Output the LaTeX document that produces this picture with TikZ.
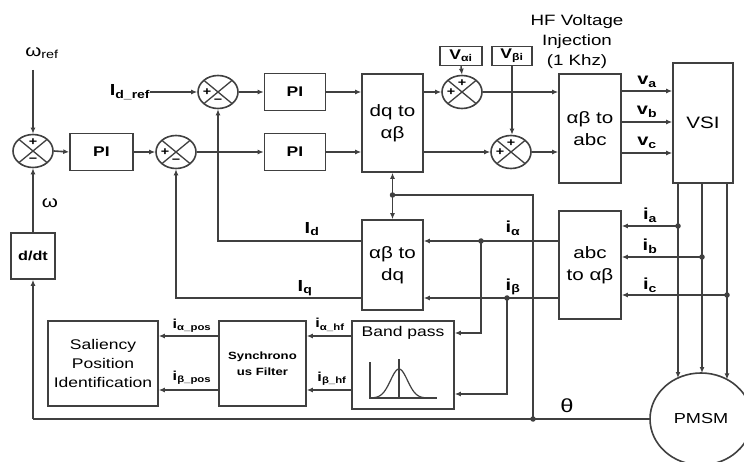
\documentclass[tikz,border=0pt]{standalone}
\usepackage{fontspec}
\setmainfont{Liberation Sans}[FakeStretch=1.25]
\usetikzlibrary{shapes.geometric,arrows.meta,calc}
\begin{document}
\begin{tikzpicture}[x=1pt,y=-1pt,
  ln/.style={draw=black!75, line width=1.6pt},
  arr/.style={ln, -{Latex[length=6pt,width=5pt]}},
  blk/.style={draw=black!75, line width=1.6pt, inner sep=0pt, align=center},
  big/.style={font=\fontsize{16.5}{22}\selectfont},
  bld/.style={font=\fontsize{14}{16}\selectfont\bfseries},
  sumn/.style={ellipse, draw=black!75, line width=1.6pt, minimum width=40pt, minimum height=33pt, inner sep=0pt,
    path picture={\draw[black!75,line width=1.3pt] (path picture bounding box.north west) -- (path picture bounding box.south east) (path picture bounding box.north east) -- (path picture bounding box.south west);}},
  sgn/.style={font=\fontsize{11.5}{11.5}\selectfont\bfseries, inner sep=0pt},
  dot/.style={circle, fill=black!75, inner sep=0pt, minimum size=5.5pt},
  lbl/.style={font=\fontsize{16}{16}\selectfont\bfseries, inner sep=0pt},
  slbl/.style={font=\fontsize{13}{13}\selectfont\bfseries, inner sep=0pt},
]
\useasboundingbox (0,0) rectangle (744,462);
\fill[white] (0,0) rectangle (744,462);

% rows and columns
\coordinate (ra) at (0,91);
\coordinate (rb) at (0,122);
\coordinate (rc) at (0,153);
\coordinate (rId) at (0,241);
\coordinate (rIq) at (0,298);
\coordinate (ria) at (0,226);
\coordinate (rib) at (0,257);
\coordinate (ric) at (0,295);
\coordinate (rth) at (0,419);
\coordinate (rtt) at (0,195);
\coordinate (rh1) at (0,336);
\coordinate (rh2) at (0,390);
\coordinate (rb1) at (0,333);
\coordinate (rb2) at (0,394);
\coordinate (ca) at (678,0);
\coordinate (cb) at (702,0);
\coordinate (cc) at (727,0);
\coordinate (cja) at (481,0);
\coordinate (cjb) at (507,0);
\coordinate (cth) at (533,0);

% blocks
\node[big] (wref) at (42,53) {ω\textsubscript{ref}};
\coordinate (wtop) at (33,70);
\node[sumn] (s1) at (33,151) {};
\node[blk, bld, minimum width=63pt, minimum height=37pt] (pi1) at (101.5,152) {PI};
\node[sumn] (s2) at (176,152) {};
\node[sumn] (s3) at (218,92) {};
\node[lbl] (idref) at (130,92) {I\textsubscript{d\_ref}};
\node[blk, bld, minimum width=61pt, minimum height=37pt] (pi2) at (295,92) {PI};
\node[blk, bld, minimum width=61pt, minimum height=37pt] (pi3) at (295,152) {PI};
\node[blk, big, minimum width=61pt, minimum height=98pt] (dq2ab) at (392.5,123) {dq to\\αβ};
\node[sumn] (s4) at (462,92) {};
\node[sumn] (s5) at (511,152) {};
\node[blk, bld, minimum width=42pt, minimum height=19pt] (vai) at (461,56) {V\textsubscript{αi}};
\node[blk, bld, minimum width=40pt, minimum height=19pt] (vbi) at (512,56) {V\textsubscript{βi}};
\node[font=\fontsize{15}{20}\selectfont, align=center] (hf) at (577,42) {HF Voltage\\Injection\\(1 Khz)};
\node[blk, big, minimum width=62pt, minimum height=109pt] (ab2abc) at (590,128.5) {αβ to\\abc};
\node[blk, big, minimum width=60pt, minimum height=120pt] (vsi) at (703,123) {VSI};
\node[blk, big, minimum width=61pt, minimum height=90pt] (ab2dq) at (392.5,265) {αβ to\\dq};
\node[blk, big, minimum width=62pt, minimum height=108pt] (abc2ab) at (590,265) {abc\\to αβ};
\node[blk, font=\fontsize{13}{13}\selectfont\bfseries, minimum width=44pt, minimum height=46pt] (dd) at (33,256) {d/dt};
\node[big] (wl) at (50,203) {ω};
\node[ellipse, draw=black!75, line width=1.6pt, minimum width=102pt, minimum height=92pt, inner sep=0pt, font=\fontsize{14.5}{14.5}\selectfont] (pmsm) at (701,419) {PMSM};
\node[blk, minimum width=102pt, minimum height=88pt] (bp) at (403,365) {};
\node[font=\fontsize{14}{14}\selectfont] (bpt) at (403,333) {Band pass};
\node[blk, font=\fontsize{10.5}{16}\selectfont\bfseries, minimum width=87pt, minimum height=85pt] (sync) at (262.5,363.5) {Synchrono\\us Filter};
\node[blk, font=\fontsize{14}{19}\selectfont, minimum width=110pt, minimum height=85pt] (sal) at (103,363.5) {Saliency\\Position\\Identification};

% signs
\node[sgn] at ($(s1)+(0,-9)$) {+};
\node[sgn] at ($(s1)+(0,9)$) {−};
\node[sgn] at ($(s2)+(-11,0)$) {+};
\node[sgn] at ($(s2)+(0,9)$) {−};
\node[sgn] at ($(s3)+(-11,0)$) {+};
\node[sgn] at ($(s3)+(0,9)$) {−};
\node[sgn] at ($(s4)+(0,-9)$) {+};
\node[sgn] at ($(s4)+(-11,0)$) {+};
\node[sgn] at ($(s5)+(0,-9)$) {+};
\node[sgn] at ($(s5)+(-11,0)$) {+};

% forward path
\draw[arr] (wtop) -- (s1.north);
\draw[arr] (s1.east) -- (pi1.west);
\draw[arr] (pi1.east) -- (s2.west);
\draw[arr] (s2.east) -- (pi3.west);
\draw[arr] (idref.east) -- (s3.west);
\draw[arr] (s3.east) -- (pi2.west);
\draw[arr] (pi2.east) -- (dq2ab.west |- pi2);
\draw[arr] (pi3.east) -- (dq2ab.west |- pi3);
\draw[arr] (dq2ab.east |- s4) -- (s4.west);
\draw[arr] (s4.east) -- (ab2abc.west |- s4);
\draw[arr] (dq2ab.east |- s5) -- (s5.west);
\draw[arr] (s5.east) -- (ab2abc.west |- s5);
\draw[arr] (vai.south) -- (s4.north);
\draw[arr] (vbi.south) -- (vbi.south |- s5.north);
\draw[arr] (ab2abc.east |- ra) -- (vsi.west |- ra);
\draw[arr] (ab2abc.east |- rb) -- (vsi.west |- rb);
\draw[arr] (ab2abc.east |- rc) -- (vsi.west |- rc);
\node[lbl] at (647,82) {v\textsubscript{a}};
\node[lbl] at (647,112) {v\textsubscript{b}};
\node[lbl] at (647,143) {v\textsubscript{c}};

% phase lines to motor
\coordinate (pa) at (678,378);
\coordinate (pb) at (702,373);
\coordinate (pc) at (727,379.4);
\draw[arr] (vsi.south -| ca) -- (pa);
\draw[arr] (vsi.south -| cb) -- (pb);
\draw[arr] (vsi.south -| cc) -- (pc);
\node[dot] (da) at (ca |- ria) {};
\node[dot] (db) at (cb |- rib) {};
\node[dot] (dc) at (cc |- ric) {};
\draw[arr] (da.center) -- (abc2ab.east |- ria);
\draw[arr] (db.center) -- (abc2ab.east |- rib);
\draw[arr] (dc.center) -- (abc2ab.east |- ric);
\node[lbl] at (650,215) {i\textsubscript{a}};
\node[lbl] at (650,246) {i\textsubscript{b}};
\node[lbl] at (650,285) {i\textsubscript{c}};

% alpha beta currents
\draw[arr] (abc2ab.west |- rId) -- (ab2dq.east |- rId);
\draw[arr] (abc2ab.west |- rIq) -- (ab2dq.east |- rIq);
\node[dot] (ja) at (cja |- rId) {};
\node[dot] (jb) at (cjb |- rIq) {};
\node[lbl] at (513,228) {i\textsubscript{α}};
\node[lbl] at (513,287) {i\textsubscript{β}};
\draw[arr] (ja.center) |- (bp.east |- rb1);
\draw[arr] (jb.center) |- (bp.east |- rb2);

% Id Iq feedback
\draw[arr] (ab2dq.west |- rId) -| (s3.south);
\draw[arr] (ab2dq.west |- rIq) -| (s2.south);
\node[lbl] at (312,229) {I\textsubscript{d}};
\node[lbl] at (305,288) {I\textsubscript{q}};

% theta
\coordinate (bl) at (33,419);
\node[dot] (jt) at (cth |- rth) {};
\node[dot] (jq) at (dq2ab.south |- rtt) {};
\draw[ln] (pmsm.west) -- (bl);
\draw[arr] (bl) -- (dd.south);
\draw[arr] (dd.north) -- (s1.south);
\draw[ln] (jt.center) |- (jq.center);
\draw[arr] (jq.center) -- (dq2ab.south);
\draw[arr] (jq.center) -- (ab2dq.north);
\node[font=\fontsize{19}{19}\selectfont] at (567,406) {θ};

% band pass / sync / saliency
\draw[arr] (bp.west |- rh1) -- (sync.east |- rh1);
\draw[arr] (bp.west |- rh2) -- (sync.east |- rh2);
\draw[arr] (sync.west |- rh1) -- (sal.east |- rh1);
\draw[arr] (sync.west |- rh2) -- (sal.east |- rh2);
\node[slbl] at (330,325) {i\textsubscript{α\_hf}};
\node[slbl] at (332,379) {i\textsubscript{β\_hf}};
\node[slbl] at (192,326) {i\textsubscript{α\_pos}};
\node[slbl] at (192,378) {i\textsubscript{β\_pos}};

% band pass curve
\draw[ln, line width=1.2pt] (370,362) -- (370,398) -- (437,398);
\draw[ln, line width=1.2pt] (399,359) -- (399,398);
\draw[ln, line width=1.2pt] plot[domain=373:433, samples=60, smooth] (\x,{398-29*exp(-((\x-399)/12)^2)});
\end{tikzpicture}
\end{document}
